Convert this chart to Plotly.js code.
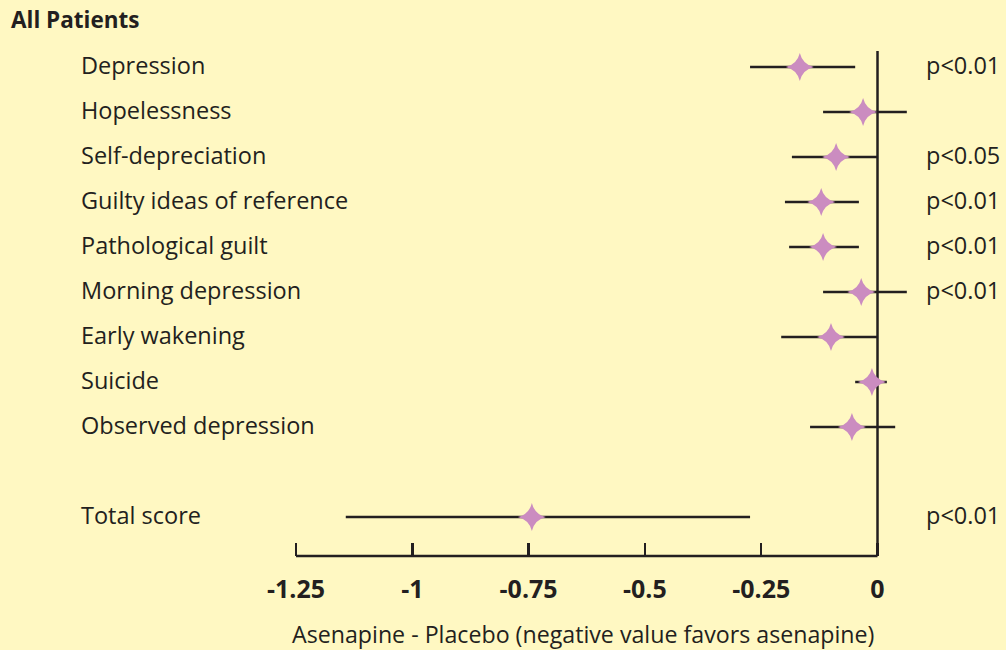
<!DOCTYPE html>
<html>
<head>
<meta charset="utf-8">
<script src="https://cdn.plot.ly/plotly-3.0.1.min.js"></script>
<style>
  html, body { margin: 0; padding: 0; background: #FFF8C2; }
  #chart { width: 1006px; height: 650px; }
</style>
</head>
<body>
<div id="chart"></div>
<script>
// ---- Data ----
var categories = ["Depression", "Hopelessness", "Self-depreciation", "Guilty ideas of reference",
  "Pathological guilt", "Morning depression", "Early wakening", "Suicide", "Observed depression",
  "Total score"];
var estimates = [-0.167, -0.031, -0.089, -0.121, -0.117, -0.035, -0.100, -0.012, -0.055, -0.743];
var lowerCI   = [-0.274, -0.117, -0.184, -0.199, -0.190, -0.117, -0.207, -0.048, -0.145, -1.143];
var upperCI   = [-0.048,  0.063,  0.000, -0.040, -0.040,  0.063,  0.000,  0.020,  0.038, -0.274];
var pLabels   = ["p<0.01", "", "p<0.05", "p<0.01", "p<0.01", "p<0.01", "", "", "", "p<0.01"];
var tickValues = [-1.25, -1, -0.75, -0.5, -0.25, 0];
var tickLabels = ["-1.25", "-1", "-0.75", "-0.5", "-0.25", "0"];
var spacer = " ";

// ---- Build ----
var ink = "#231F20";
var font = "Open Sans, Noto Sans, sans-serif";
var catOrder = categories.slice(0, 9).concat([spacer]).concat(categories.slice(9));

var plus = estimates.map(function (e, i) { return upperCI[i] - e; });
var minus = estimates.map(function (e, i) { return e - lowerCI[i]; });

var trace = {
  type: "scatter",
  mode: "markers",
  x: estimates,
  y: categories,
  marker: { symbol: "star-diamond", size: 20, color: "#CB8CC0", line: { width: 0 } },
  error_x: { type: "data", symmetric: false, array: plus, arrayminus: minus,
             color: ink, thickness: 2.5, width: 0 },
  hoverinfo: "x+y",
  showlegend: false,
  cliponaxis: false
};

var annotations = [];
categories.forEach(function (c, i) {
  annotations.push({ xref: "paper", yref: "y", x: 79 / 1006, y: c, xanchor: "left", yanchor: "middle",
    text: c, showarrow: false, yshift: 2, font: { family: font, size: 23.5, color: ink } });
  if (pLabels[i]) {
    annotations.push({ xref: "paper", yref: "y", x: 924 / 1006, y: c, xanchor: "left", yanchor: "middle",
      text: pLabels[i], showarrow: false, yshift: 2, font: { family: font, size: 23.5, color: ink } });
  }
});
annotations.push({ xref: "paper", yref: "paper", x: 583 / 1006, y: -(634 - 556) / 556,
  xanchor: "center", yanchor: "middle", showarrow: false,
  text: "Asenapine - Placebo (negative value favors asenapine)",
  font: { family: font, size: 23.2, color: ink } });

var layout = {
  width: 1006, height: 650,
  paper_bgcolor: "#FFF8C2", plot_bgcolor: "#FFF8C2",
  margin: { l: 0, r: 0, t: 0, b: 94 },
  title: { text: "All Patients", x: 11 / 1006, xanchor: "left", xref: "container",
           y: 1 - 20 / 650, yanchor: "middle", yref: "container",
           font: { family: font, size: 22.5, color: ink, weight: 700 } },
  xaxis: {
    range: [-1.8863, 0.2762],
    tickmode: "array", tickvals: tickValues, ticktext: tickLabels,
    ticks: "inside", ticklen: 13, tickwidth: 2.5, tickcolor: ink,
    ticklabelstandoff: 16,
    tickfont: { family: font, size: 25, color: ink, weight: 700 },
    showgrid: false, zeroline: false, showline: false, fixedrange: true
  },
  yaxis: {
    type: "category", categoryorder: "array", categoryarray: catOrder,
    range: [10.8667, -1.4889],
    showticklabels: false, showgrid: false, zeroline: false, showline: false, ticks: "",
    fixedrange: true
  },
  shapes: [
    { type: "line", xref: "x", yref: "paper", x0: -1.25, x1: 0, y0: 0, y1: 0,
      line: { color: ink, width: 2.5 } },
    { type: "line", xref: "x", yref: "paper", x0: 0, x1: 0, y0: 0, y1: (556 - 51) / 556,
      line: { color: ink, width: 2.5 }, layer: "below" }
  ],
  annotations: annotations
};

Plotly.newPlot("chart", [trace], layout, { displayModeBar: false, staticPlot: true });
</script>
</body>
</html>
